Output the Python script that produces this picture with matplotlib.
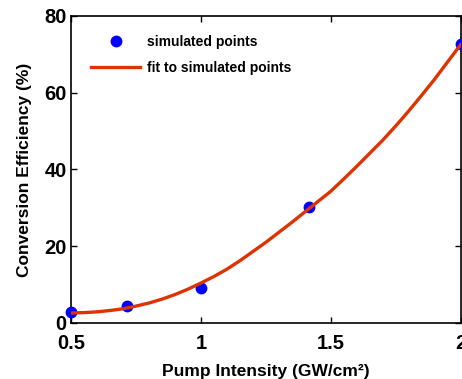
import matplotlib
matplotlib.use("Agg")
import matplotlib.pyplot as plt

# simulated points
sim_x = [0.5, 0.715, 1.0, 1.415, 2.0]
sim_y = [2.9, 4.4, 9.1, 30.2, 72.7]

# fit curve
fit_x = [0.5, 0.55, 0.6, 0.65, 0.7, 0.75, 0.8, 0.85, 0.9, 0.95, 1.0, 1.05, 1.1, 1.15,
         1.2, 1.25, 1.3, 1.35, 1.4, 1.45, 1.5, 1.55, 1.6, 1.65, 1.7, 1.75, 1.8, 1.85,
         1.9, 1.95, 2.0]
fit_y = [2.6, 2.7, 2.9, 3.25, 3.7, 4.4, 5.2, 6.2, 7.4, 8.8, 10.4, 12.1, 14.0, 16.2,
         18.6, 21.0, 23.6, 26.2, 28.9, 31.6, 34.3, 37.5, 40.8, 44.2, 47.6, 51.3, 55.2, 59.3,
         63.5, 68.0, 72.5]

x_ticks = [0.5, 1, 1.5, 2]
x_ticklabels = ["0.5", "1", "1.5", "2"]
y_ticks = [0, 20, 40, 60, 80]

plt.rcParams["font.family"] = ["Liberation Sans", "DejaVu Sans"]
plt.rcParams["font.weight"] = "bold"

fig = plt.figure(figsize=(4.62, 3.79), dpi=100)
ax = fig.add_axes([0.1537, 0.1478, 0.8431, 0.81])

ax.plot(sim_x, sim_y, "o", color="#0000ff", markersize=7.5, label="simulated points", zorder=3, clip_on=False)
ax.plot(fit_x, fit_y, "-", color="#dd3300", linewidth=2.4, label="fit to simulated points", zorder=4)

ax.set_xlim(0.5, 2)
ax.set_ylim(0, 80)
ax.set_xticks(x_ticks)
ax.set_xticklabels(x_ticklabels)
ax.set_yticks(y_ticks)
ax.tick_params(direction="in", length=4, width=1, top=True, right=True, labelsize=14.5)
ax.tick_params(axis="x", pad=8)
ax.tick_params(axis="y", pad=3)
for lab in ax.get_xticklabels() + ax.get_yticklabels():
    lab.set_fontweight("bold")
for s in ax.spines.values():
    s.set_linewidth(1.2)

ax.set_xlabel("Pump Intensity (GW/cm\u00b2)", fontsize=12.5, fontweight="bold", labelpad=8)
ax.set_ylabel("Conversion Efficiency (%)", fontsize=12.5, fontweight="bold", labelpad=9)

leg = ax.legend(loc="upper left", bbox_to_anchor=(0.02, 0.98), frameon=False, fontsize=10,
                handlelength=3.5, handletextpad=0.5, labelspacing=0.9)
for t in leg.get_texts():
    t.set_fontweight("bold")

fig.savefig("out.png", dpi=100)
